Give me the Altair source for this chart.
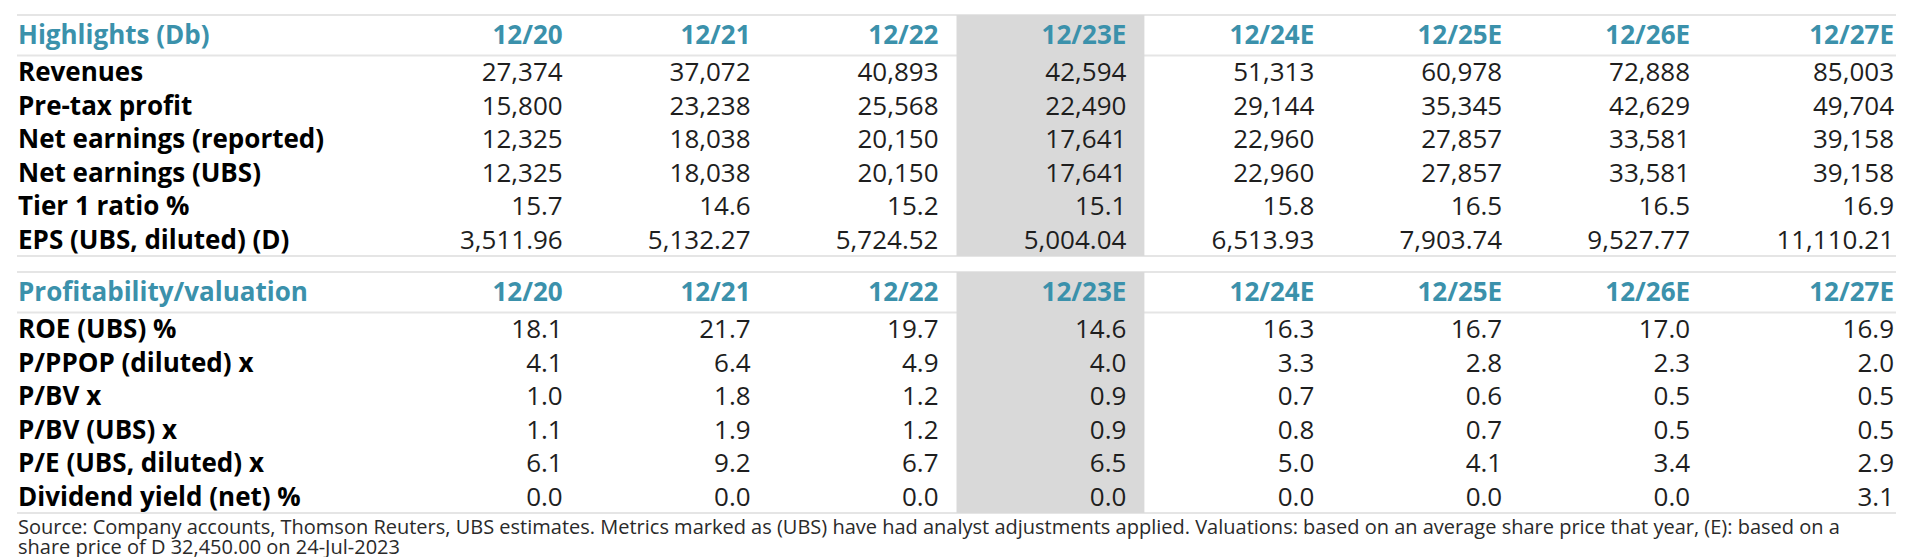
import altair as alt
import pandas as pd

# ---------------- data ----------------
columns = ["12/20", "12/21", "12/22", "12/23E", "12/24E", "12/25E", "12/26E", "12/27E"]
highlight_col = "12/23E"

s1_title = "Highlights (Db)"
s1_rows = ["Revenues", "Pre-tax profit", "Net earnings (reported)",
           "Net earnings (UBS)", "Tier 1 ratio %", "EPS (UBS, diluted) (D)"]
revenues = [27374, 37072, 40893, 42594, 51313, 60978, 72888, 85003]
pretax_profit = [15800, 23238, 25568, 22490, 29144, 35345, 42629, 49704]
net_earnings_reported = [12325, 18038, 20150, 17641, 22960, 27857, 33581, 39158]
net_earnings_ubs = [12325, 18038, 20150, 17641, 22960, 27857, 33581, 39158]
tier1_ratio = [15.7, 14.6, 15.2, 15.1, 15.8, 16.5, 16.5, 16.9]
eps_diluted = [3511.96, 5132.27, 5724.52, 5004.04, 6513.93, 7903.74, 9527.77, 11110.21]
s1_values = [revenues, pretax_profit, net_earnings_reported, net_earnings_ubs, tier1_ratio, eps_diluted]
s1_formats = [",.0f", ",.0f", ",.0f", ",.0f", ".1f", ",.2f"]

s2_title = "Profitability/valuation"
s2_rows = ["ROE (UBS) %", "P/PPOP (diluted) x", "P/BV x", "P/BV (UBS) x",
           "P/E (UBS, diluted) x", "Dividend yield (net) %"]
roe = [18.1, 21.7, 19.7, 14.6, 16.3, 16.7, 17.0, 16.9]
p_ppop = [4.1, 6.4, 4.9, 4.0, 3.3, 2.8, 2.3, 2.0]
p_bv = [1.0, 1.8, 1.2, 0.9, 0.7, 0.6, 0.5, 0.5]
p_bv_ubs = [1.1, 1.9, 1.2, 0.9, 0.8, 0.7, 0.5, 0.5]
p_e = [6.1, 9.2, 6.7, 6.5, 5.0, 4.1, 3.4, 2.9]
div_yield = [0.0, 0.0, 0.0, 0.0, 0.0, 0.0, 0.0, 3.1]
s2_values = [roe, p_ppop, p_bv, p_bv_ubs, p_e, div_yield]
s2_formats = [".1f"] * 6

footnote = [
    "Source: Company accounts, Thomson Reuters, UBS estimates. Metrics marked as (UBS) have had analyst "
    "adjustments applied. Valuations: based on an average share price that year, (E): based on a",
    "share price of D 32,450.00 on 24-Jul-2023",
]

# ---------------- layout (style constants) ----------------
FONT = "Open Sans"
TEAL = "#3b91ab"
BAND = "#d9d9d9"
LINE = "#e5e5e5"
LABEL_SPAN = 3                               # label column spans 3 cell widths
TABLE_U = LABEL_SPAN + len(columns) - 1      # right edge of last cell, in cell units
ROW_H = 33.5
HEAD_OFF = 21
HEADLINE_OFF = 40.5
FIRST_ROW_OFF = 58
BOTTOM_OFF = 241
SECTION_GAP = 16
TOP = 7
H = 541
W = 1879

lines, bands, labels, heads, values, titles = [], [], [], [], [], []
hi = columns.index(highlight_col)

y0 = TOP
for title, rows, vals, fmts in [(s1_title, s1_rows, s1_values, s1_formats),
                                (s2_title, s2_rows, s2_values, s2_formats)]:
    lines += [{"y": y0}, {"y": y0 + HEADLINE_OFF}, {"y": y0 + BOTTOM_OFF}]
    bands.append({"u0": LABEL_SPAN + hi - 1, "u1": LABEL_SPAN + hi, "y0": y0, "y1": y0 + BOTTOM_OFF})
    titles.append({"u": 0, "y": y0 + HEAD_OFF, "t": title})
    for j, c in enumerate(columns):
        heads.append({"u": LABEL_SPAN + j, "y": y0 + HEAD_OFF, "t": c, "last": j == len(columns) - 1})
    for k, (r, v, f) in enumerate(zip(rows, vals, fmts)):
        yy = y0 + FIRST_ROW_OFF + k * ROW_H
        labels.append({"u": 0, "y": yy, "t": r})
        for j, val in enumerate(v):
            values.append({"u": LABEL_SPAN + j, "y": yy, "t": format(val, f),
                           "last": j == len(columns) - 1})
    foot_y = y0 + BOTTOM_OFF
    y0 = y0 + BOTTOM_OFF + SECTION_GAP

notes = [{"u": 0, "y": foot_y + 15 + i * 20, "t": t} for i, t in enumerate(footnote)]

xs = alt.Scale(domain=[0, TABLE_U], nice=False, zero=False)
ys = alt.Scale(domain=[0, H], reverse=True, nice=False, zero=False)

def X(f="u"):
    return alt.X(f"{f}:Q", scale=xs, axis=None)

def Y(f="y"):
    return alt.Y(f"{f}:Q", scale=ys, axis=None)

lines_df = pd.DataFrame(lines)
lines_df["u0"] = 0
lines_df["u1"] = TABLE_U

rule_layer = alt.Chart(lines_df).mark_rule(color=LINE, strokeWidth=2).encode(
    x=X("u0"), x2="u1", y=Y())

band_layer = alt.Chart(pd.DataFrame(bands)).mark_rect(color=BAND).encode(
    x=X("u0"), x2="u1", y=Y("y0"), y2="y1")

title_layer = alt.Chart(pd.DataFrame(titles)).mark_text(
    font=FONT, fontSize=26, fontWeight="bold", color=TEAL, align="left", baseline="middle", dx=1
).encode(x=X(), y=Y(), text="t:N")

heads_df = pd.DataFrame(heads)
head_layer = alt.Chart(heads_df[~heads_df["last"]]).mark_text(
    font=FONT, fontSize=26, fontWeight="bold", color=TEAL, align="right", baseline="middle", dx=-18
).encode(x=X(), y=Y(), text="t:N")
head_last = alt.Chart(heads_df[heads_df["last"]]).mark_text(
    font=FONT, fontSize=26, fontWeight="bold", color=TEAL, align="right", baseline="middle", dx=-2
).encode(x=X(), y=Y(), text="t:N")

label_layer = alt.Chart(pd.DataFrame(labels)).mark_text(
    font=FONT, fontSize=26, fontWeight="bold", color="#000000", align="left", baseline="middle", dx=1
).encode(x=X(), y=Y(), text="t:N")

values_df = pd.DataFrame(values)
value_layer = alt.Chart(values_df[~values_df["last"]]).mark_text(
    font=FONT, fontSize=26, color="#1e1e1e", align="right", baseline="middle", dx=-18
).encode(x=X(), y=Y(), text="t:N")
value_last = alt.Chart(values_df[values_df["last"]]).mark_text(
    font=FONT, fontSize=26, color="#1e1e1e", align="right", baseline="middle", dx=-2
).encode(x=X(), y=Y(), text="t:N")

note_layer = alt.Chart(pd.DataFrame(notes)).mark_text(
    font=FONT, fontSize=20, color="#2a2a2a", align="left", baseline="middle", dx=1
).encode(x=X(), y=Y(), text="t:N")

chart = alt.layer(
    rule_layer, band_layer, title_layer, head_layer, head_last,
    label_layer, value_layer, value_last, note_layer
).properties(
    width=W, height=H,
    padding={"left": 9, "right": 16, "top": 0, "bottom": 8},
    autosize="none",
    background="white",
).configure_view(stroke=None)

chart.save("out.html", embed_options={"renderer": "svg", "actions": False})
